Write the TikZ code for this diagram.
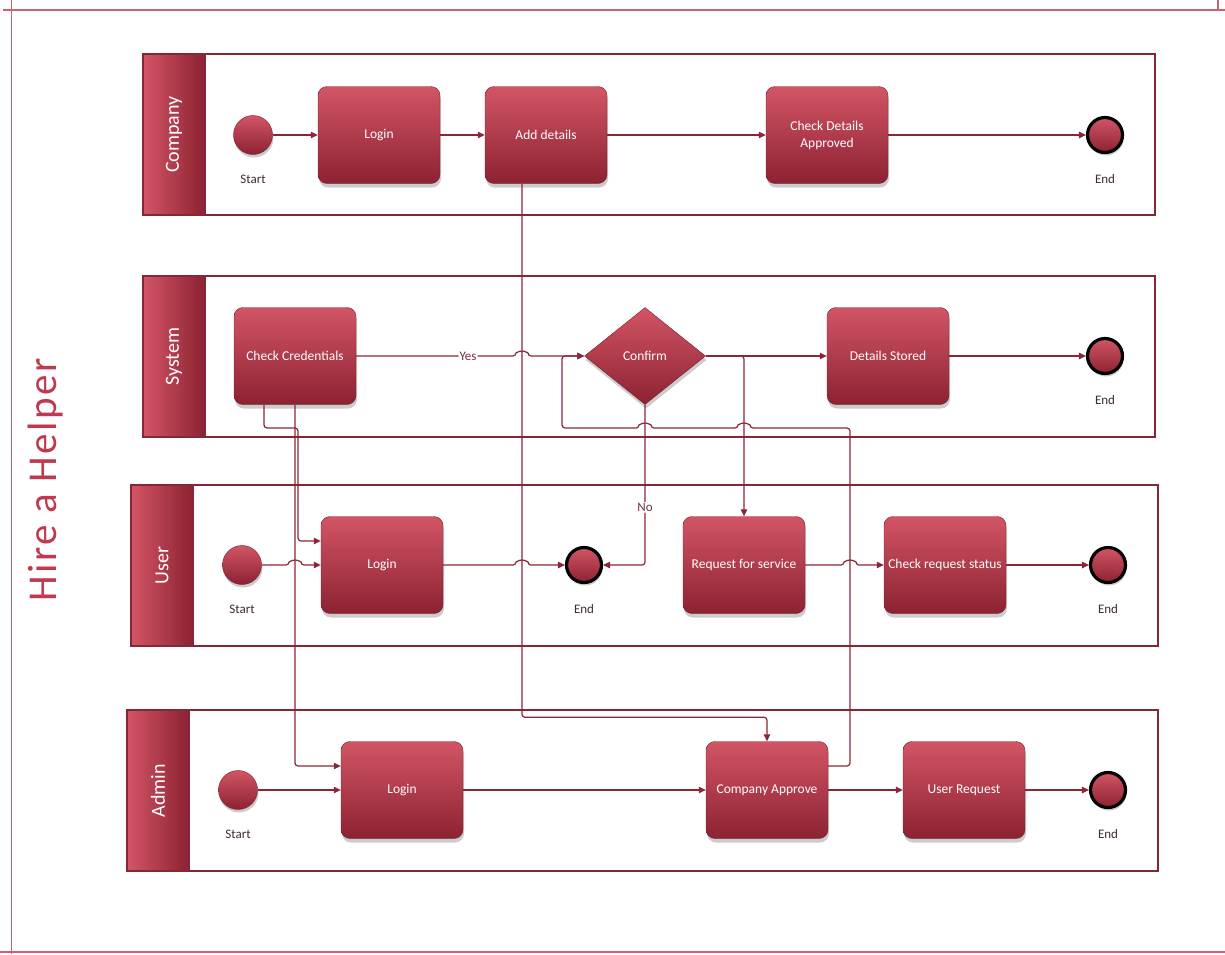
\documentclass[tikz,border=0pt]{standalone}
\usepackage{fontspec}
\setmainfont{Carlito}
\newfontfamily\titlefont[LetterSpace=6]{Carlito}
\usepackage{tikz}
\usetikzlibrary{arrows.meta}
\usetikzlibrary{shapes.geometric}
\usetikzlibrary{shadows}
\usepackage{xcolor}
\definecolor{boxtop}{HTML}{D25565}
\definecolor{boxbot}{HTML}{8C2232}
\definecolor{boxline}{HTML}{7A1E2C}
\definecolor{wire}{HTML}{8A2635}
\definecolor{laneline}{HTML}{842836}
\definecolor{frameline}{HTML}{CF6070}
\definecolor{titlered}{HTML}{C03A4E}
\definecolor{captext}{HTML}{3E2A30}
\definecolor{yesno}{HTML}{7A3040}
\newcommand{\hopr}{arc[start angle=180,end angle=0,x radius=6pt,y radius=5pt]}
\newcommand{\hopl}{arc[start angle=0,end angle=180,x radius=6pt,y radius=5pt]}

\begin{document}
\begin{tikzpicture}[x=1pt,y=-1pt]
\tikzstyle{task}=[rectangle,rounded corners=9pt,minimum width=122pt,minimum height=97pt,draw=boxline,top color=boxtop,bottom color=boxbot,text=white,align=center,font=\fontsize{13.5}{17}\selectfont,drop shadow={opacity=.4,shadow xshift=1pt,shadow yshift=-4pt}]
\tikzstyle{gate}=[task,diamond,rounded corners=0pt,minimum width=121pt,minimum height=97pt,inner sep=0pt]
\tikzstyle{evstart}=[circle,minimum size=39pt,inner sep=0pt,draw=boxline,top color=boxtop,bottom color=boxbot,drop shadow={opacity=.4,shadow xshift=1pt,shadow yshift=-3pt}]
\tikzstyle{evend}=[evstart,minimum size=35pt,draw=black,line width=3.2pt]
\tikzstyle{evlabel}=[text=captext,font=\fontsize{13}{16}\selectfont]
\tikzstyle{lbl}=[fill=white,inner sep=1pt,text=yesno,font=\fontsize{13}{16}\selectfont]
\tikzstyle{lanehead}=[rotate=90,text=white,font=\fontsize{20}{24}\selectfont]
\tikzstyle{conn}=[draw=wire,line width=1.2pt,rounded corners=3pt,-{Triangle[length=7pt,width=6.5pt]}]
\useasboundingbox (0,0) rectangle (1225,954);
\draw[frameline,line width=1.5pt] (3,10) -- (1225,10);
\draw[frameline,line width=1.5pt] (1218,0) -- (1218,10);
\draw[frameline,line width=1.5pt] (11.5,0) -- (11.5,954);
\draw[frameline,line width=1.5pt] (0,952) -- (1225,952);
\node[rotate=90,text=titlered,font=\titlefont\fontsize{41}{48}\selectfont] (title) at (46,480) {Hire a Helper};
\foreach \lx/\ty/\rx/\nm in {143/54/1155/Company,143/276/1155/System,131/485/1158/User,127/710/1158/Admin}{
\shade[left color=boxtop,right color=boxbot] (\lx,\ty) rectangle (\lx+62,\ty+161);
\draw[laneline,line width=1.8pt] (\lx,\ty) rectangle (\rx,\ty+161);
\draw[laneline,line width=1.8pt] (\lx+62,\ty) -- (\lx+62,\ty+161);
\node[lanehead] (h\nm) at (\lx+31,\ty+80.5) {\nm};
}
\node[evstart] (cs) at (253,135) {};
\node[evlabel] (csl) at (253,179) {Start};
\node[task] (cl) at (379,135) {Login};
\node[task] (ca) at (546,135) {Add details};
\node[task] (cc) at (827,135) {Check Details\\Approved};
\node[evend] (ce) at (1105,135) {};
\node[evlabel] (cel) at (1105,179) {End};
\node[task] (sc) at (295,356) {Check Credentials};
\node[gate] (sf) at (645,356) {Confirm};
\node[task] (ss) at (888,356) {Details Stored};
\node[evend] (se) at (1105,356) {};
\node[evlabel] (sel) at (1105,400) {End};
\node[evstart] (us) at (242,565) {};
\node[evlabel] (usl) at (242,609) {Start};
\node[task] (ul) at (382,565) {Login};
\node[evend] (ue) at (584,565) {};
\node[evlabel] (uel) at (584,609) {End};
\node[task] (ur) at (744,565) {Request for service};
\node[task] (ut) at (945,565) {Check request status};
\node[evend] (uf) at (1108,565) {};
\node[evlabel] (ufl) at (1108,609) {End};
\node[evstart] (as) at (238,790) {};
\node[evlabel] (asl) at (238,834) {Start};
\node[task] (al) at (402,790) {Login};
\node[task] (aa) at (767,790) {Company Approve};
\node[task] (ar) at (964,790) {User Request};
\node[evend] (af) at (1108,790) {};
\node[evlabel] (afl) at (1108,834) {End};
\coordinate (v1) at ([xshift=-24pt]ca.south);
\coordinate (v2) at (sc.south);
\coordinate (k1) at (298,428);
\coordinate (k2) at (850,428);
\coordinate (k3) at (562,428);
\draw[conn] (cs) -- (cl);
\draw[conn] (cl) -- (ca);
\draw[conn] (ca) -- (cc);
\draw[conn] (cc) -- (ce);
\draw[conn] (v1) |- ([yshift=24pt]aa.north) -- (aa.north);
\draw[conn] (sc.east) -- node[lbl,pos=.7] (yes) {Yes} ([xshift=-6pt]sc.east -| v1) \hopr -- (sf.west);
\draw[conn] ([xshift=-31pt]sc.south) |- (k1) |- ([yshift=24pt]ul.west);
\draw[conn] (v2) |- ([yshift=24pt]al.west);
\draw[conn] (us) -- ([xshift=-6pt]us -| v2) \hopr -- (ul);
\draw[conn] (ul) -- ([xshift=-6pt]ul -| v1) \hopr -- (ue);
\draw[conn] (sf.south) |- node[lbl,pos=.32] (no) {No} (ue.east);
\draw[conn] (sf.east) -- (ss.west);
\draw[conn] (sf.east) -| (ur.north);
\draw[conn] (ss) -- (se);
\draw[conn] (ur) -- ([xshift=-6pt]ur -| k2) \hopr -- (ut);
\draw[conn] (ut) -- (uf);
\draw[conn] (as) -- (al);
\draw[conn] (al) -- (aa);
\draw[conn] (aa) -- (ar);
\draw[conn] (ar) -- (af);
\draw[conn] ([yshift=24pt]aa.east) -| (k2) -- ([xshift=6pt]k2 -| ur.north) \hopl -- ([xshift=6pt]k2 -| sf.south) \hopl -- (k3) |- (sf.west);
\end{tikzpicture}
\end{document}
